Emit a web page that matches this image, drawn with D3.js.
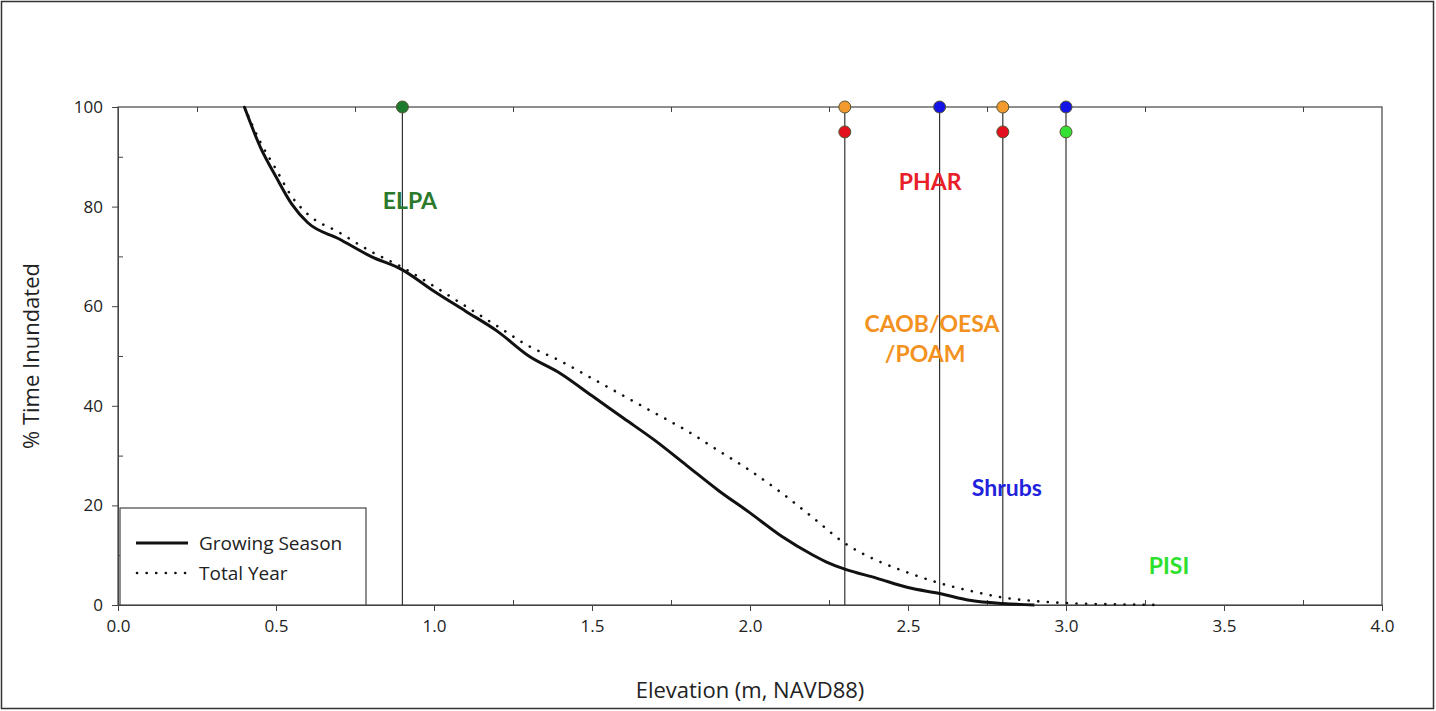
<!DOCTYPE html>
<html>
<head>
<meta charset="UTF-8">
<script src="https://cdn.jsdelivr.net/npm/d3@7"></script>
<style>
body {margin:0; background:#fff;}
text {font-family:"Open Sans", sans-serif;}
.tick text {font-size:17px; fill:#222;}
.sp {font-family:Lato, "Open Sans", sans-serif; font-weight:bold; font-size:23px;}
</style>
</head>
<body>
<svg id="chart" width="1436" height="711"></svg>
<script>
// elevation (m) vs % time inundated
var growElev = [0.4,0.45,0.5,0.55,0.6,0.7,0.8,0.9,1.0,1.1,1.2,1.3,1.4,1.5,1.6,1.7,1.8,1.9,2.0,2.1,2.2,2.25,2.3,2.4,2.5,2.6,2.7,2.8,2.9];
var growPct  = [100,92,86,80.5,76.8,73.5,70,67.3,63,59,55,50,46.5,42,37.5,33,28,23,18.5,13.8,10,8.4,7.2,5.4,3.5,2.3,0.9,0.3,0];
var yearElev = [0.4,0.45,0.5,0.55,0.6,0.7,0.8,0.9,1.0,1.1,1.2,1.3,1.4,1.5,1.6,1.7,1.8,1.9,2.0,2.1,2.2,2.3,2.4,2.5,2.6,2.7,2.8,2.9,3.0,3.1,3.2,3.3];
var yearPct  = [100,93,87.5,82,78.5,74.8,71,67.8,64,60,56,52,49,45.5,42,38.5,35,31,27,22.5,17.5,12.4,9,6.5,4.4,2.8,1.5,0.8,0.4,0.2,0.1,0];

var speciesLines = [0.9, 2.3, 2.6, 2.8, 3.0];
var markerX   = [0.9, 2.3, 2.3, 2.6, 2.8, 2.8, 3.0, 3.0];
var markerY   = [100, 100, 95, 100, 100, 95, 100, 95];
var markerCol = ["#1e7b2e","#f39a2e","#e3101e","#1414e6","#f39a2e","#e3101e","#1414e6","#33e033"];

var labelText = ["ELPA","PHAR","CAOB/OESA","/POAM","Shrubs","PISI"];
var labelX    = [0.924, 2.57, 2.576, 2.554, 2.813, 3.326];
var labelY    = [79.5, 83.3, 54.8, 48.8, 21.9, 6.2];
var labelCol  = ["#2a7a2a","#e8202a","#f39221","#f39221","#2222dd","#2ee02e"];

var xTicks = d3.range(0, 4.01, 0.5);
var yTicks = d3.range(0, 101, 20);

var svg = d3.select("#chart");
svg.append("rect").attr("x",1.5).attr("y",1.5).attr("width",1432).attr("height",707)
  .attr("fill","none").attr("stroke","#333").attr("stroke-width",1.5);

var x = d3.scaleLinear().domain([0,4]).range([118,1382]);
var y = d3.scaleLinear().domain([0,100]).range([605,107]);

// frame
svg.append("rect").attr("x",x(0)).attr("y",y(100)).attr("width",x(4)-x(0)).attr("height",y(0)-y(100))
  .attr("fill","none").attr("stroke","#444").attr("stroke-width",1.2);

// bottom axis
var xa = svg.append("g").attr("transform","translate(0,"+y(0)+")")
  .call(d3.axisBottom(x).tickValues(xTicks).tickFormat(d3.format(".1f")).tickSize(6).tickPadding(9));
xa.select(".domain").attr("stroke","#444");
xa.selectAll(".tick line").attr("stroke","#444");
svg.append("g").attr("transform","translate(0,"+y(0)+")")
  .call(d3.axisTop(x).tickValues(d3.range(0.25,4,0.5)).tickSize(5).tickFormat(""))
  .call(function(g){ g.select(".domain").remove(); g.selectAll("line").attr("stroke","#444"); });
svg.append("g").attr("transform","translate(0,"+y(100)+")")
  .call(d3.axisBottom(x).tickValues(d3.range(0.25,4,0.5)).tickSize(5).tickFormat(""))
  .call(function(g){ g.select(".domain").remove(); g.selectAll("line").attr("stroke","#444"); });

// left axis
var ya = svg.append("g").attr("transform","translate("+x(0)+",0)")
  .call(d3.axisLeft(y).tickValues(yTicks).tickSize(6).tickPadding(9));
ya.select(".domain").attr("stroke","#444");
ya.selectAll(".tick line").attr("stroke","#444");
svg.append("g").attr("transform","translate("+x(0)+",0)")
  .call(d3.axisRight(y).tickValues(d3.range(10,100,20)).tickSize(5).tickFormat(""))
  .call(function(g){ g.select(".domain").remove(); g.selectAll("line").attr("stroke","#444"); });

svg.append("text").attr("x",750).attr("y",698).attr("text-anchor","middle")
  .style("font-size","22px").attr("fill","#222").text("Elevation (m, NAVD88)");
svg.append("text").attr("transform","translate(39,356) rotate(-90)").attr("text-anchor","middle")
  .style("font-size","22px").attr("fill","#222").text("% Time Inundated");

// species vertical lines
svg.selectAll(".vl").data(speciesLines).enter().append("line")
  .attr("x1",function(d){return x(d);}).attr("x2",function(d){return x(d);})
  .attr("y1",y(100)).attr("y2",y(0)).attr("stroke","#333").attr("stroke-width",1.2);

var line = d3.line().x(function(d){return x(d[0]);}).y(function(d){return y(d[1]);}).curve(d3.curveMonotoneX);
svg.append("path").datum(d3.zip(yearElev, yearPct)).attr("d", line)
  .attr("fill","none").attr("stroke","#111").attr("stroke-width",2.6)
  .attr("stroke-dasharray","0.1 9.5").attr("stroke-linecap","round");
svg.append("path").datum(d3.zip(growElev, growPct)).attr("d", line)
  .attr("fill","none").attr("stroke","#111").attr("stroke-width",3);

// markers
svg.selectAll(".mk").data(markerX).enter().append("circle")
  .attr("cx",function(d){return x(d);}).attr("cy",function(d,i){return y(markerY[i]);})
  .attr("r",6).attr("fill",function(d,i){return markerCol[i];})
  .attr("stroke","#553").attr("stroke-width",1);

// labels
svg.selectAll(".sp").data(labelText).enter().append("text").attr("class","sp")
  .attr("x",function(d,i){return x(labelX[i]);}).attr("y",function(d,i){return y(labelY[i]);})
  .attr("text-anchor","middle").attr("fill",function(d,i){return labelCol[i];})
  .text(function(d){return d;});

// legend
var lg = svg.append("g");
lg.append("rect").attr("x",120).attr("y",508).attr("width",246).attr("height",97)
  .attr("fill","#fff").attr("stroke","#444").attr("stroke-width",1.2);
lg.append("line").attr("x1",136).attr("x2",188).attr("y1",543).attr("y2",543)
  .attr("stroke","#111").attr("stroke-width",3);
lg.append("line").attr("x1",137).attr("x2",188).attr("y1",573).attr("y2",573)
  .attr("stroke","#111").attr("stroke-width",2.6).attr("stroke-dasharray","0.1 9.5").attr("stroke-linecap","round");
lg.append("text").attr("x",199).attr("y",550).style("font-size","19px").attr("fill","#222").text("Growing Season");
lg.append("text").attr("x",199).attr("y",580).style("font-size","19px").attr("fill","#222").text("Total Year");
</script>
</body>
</html>
